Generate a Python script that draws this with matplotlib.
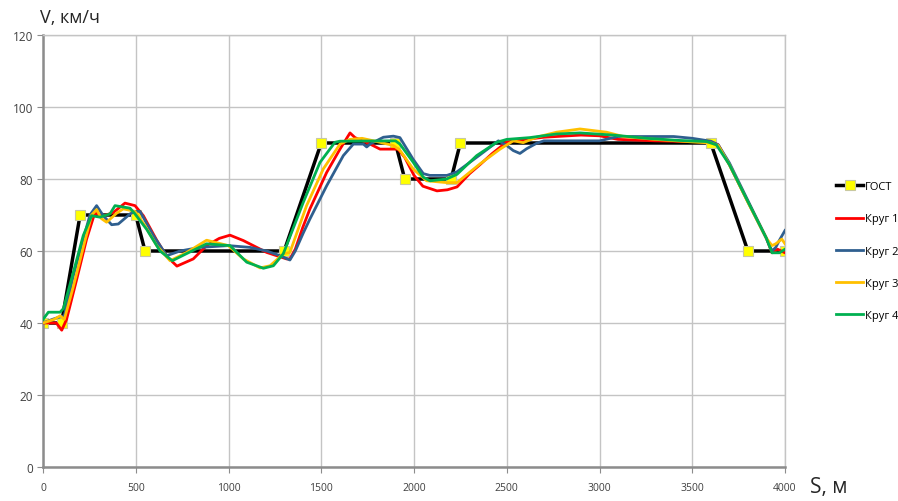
import matplotlib
matplotlib.use("Agg")
import matplotlib.pyplot as plt

plt.rcParams['font.family'] = ['Open Sans', 'DejaVu Sans']

# ГОСТ profile
gost_s = [0, 100, 200, 500, 550, 1300, 1500, 1900, 1950, 2200, 2250, 3600, 3800, 4000]
gost_v = [40, 40, 70, 70, 60, 60, 90, 90, 80, 80, 90, 90, 60, 60]

# Круг 1
s1 = [0, 50, 72, 101, 127, 182, 235, 280, 307, 340, 379, 442, 496, 541, 613, 667, 722,
      810, 882, 950, 1008, 1080, 1206, 1313, 1331, 1360, 1400, 1439, 1529, 1601, 1655,
      1682, 1763, 1817, 1871, 1914, 1950, 2000, 2048, 2124, 2180, 2232, 2300, 2356, 2420,
      2500, 2600, 2700, 2900, 3000, 3100, 3300, 3600, 3640, 3700, 3800, 3900, 3930, 3960, 4000]
v1 = [40, 40, 40, 38, 41, 52.2, 63.3, 70.7, 69.6, 70, 70.7, 73.3, 72.6, 69.8, 63, 58.5, 55.8,
      57.8, 61.5, 63.5, 64.4, 62.9, 59.6, 57.8, 57.8, 60.5, 66.5, 71.7, 81.8, 88.3, 92.8,
      91.5, 89.7, 88.3, 88.3, 88.3, 86, 81, 78, 76.7, 77, 77.8, 81.5, 84, 87,
      90.3, 91, 91.6, 92.2, 92, 91, 90.6, 90.3, 89.5, 84, 73.7, 63.5, 59.5, 60.5, 59.5]

# Круг 2
s2 = [0, 50, 92, 115, 163, 217, 253, 289, 325, 370, 406, 440, 469, 496, 523, 595, 667,
      739, 846, 999, 1116, 1206, 1278, 1331, 1360, 1403, 1439, 1529, 1619, 1673, 1727,
      1745, 1763, 1835, 1889, 1924, 1995, 2050, 2085, 2178, 2232, 2350, 2455, 2500, 2535,
      2571, 2607, 2660, 2700, 3000, 3100, 3400, 3500, 3600, 3640, 3700, 3800, 3900, 3930,
      3950, 3970, 4000]
v2 = [40, 41, 41.7, 42, 53, 63.3, 70, 72.6, 69.8, 67.3, 67.5, 69, 70.3, 71, 71, 64.3, 58.7,
      60, 61, 61.5, 61, 60, 58.7, 57.5, 60, 65, 68.9, 78.1, 86.5, 89.7, 89.7,
      88.9, 89.7, 91.6, 91.9, 91.5, 85.5, 81.5, 81, 81, 82, 86.5, 90.6, 89.3, 87.9,
      87.1, 88.4, 89.9, 90.6, 90.6, 91.8, 91.8, 91.3, 90.5, 89.5, 84.5, 74, 63.5, 60,
      61, 63, 65.7]

# Круг 3
s3 = [0, 60, 92, 115, 163, 217, 262, 289, 315, 343, 397, 433, 496, 550, 613, 685, 775,
      882, 999, 1080, 1170, 1224, 1295, 1331, 1421, 1511, 1601, 1655, 1720, 1800, 1889,
      1924, 1995, 2068, 2176, 2232, 2356, 2464, 2535, 2589, 2660, 2768, 2895, 3038, 3128,
      3300, 3500, 3600, 3640, 3700, 3800, 3900, 3930, 3950, 3983, 4000]
v3 = [40, 41, 42, 41, 50, 61, 70, 71.5, 69, 68, 70.5, 71.7, 71, 67, 61.5, 57.3, 59.6,
      63, 61.5, 57.8, 55.3, 55.9, 59.2, 59.6, 72.6, 82.8, 89.7, 91, 91.3, 90.4, 89.3,
      88, 82.8, 79.5, 79, 79, 84.2, 88.3, 90.6, 90.1, 91.6, 93, 93.9, 93, 91.8,
      91, 90.3, 90, 89.3, 84, 73.5, 63.5, 61.5, 62, 63.3, 62]

# Круг 4
s4 = [0, 29, 92, 110, 163, 217, 262, 307, 361, 388, 469, 496, 559, 631, 697, 775, 882,
      1008, 1098, 1188, 1242, 1295, 1305, 1403, 1493, 1574, 1600, 1900, 1924, 1995, 2050,
      2086, 2176, 2232, 2338, 2446, 2500, 2624, 2768, 2895, 3074, 3254, 3434, 3577, 3630,
      3700, 3800, 3900, 3930, 3970, 4000]
v4 = [41, 43, 43, 44, 54, 64.3, 69.8, 69.4, 70.3, 72.6, 71.9, 70.3, 66, 60, 57.3, 59.3, 62,
      61.5, 56.9, 55.2, 55.9, 59.2, 60.5, 73.5, 84.6, 90.2, 90.5, 90.6, 89.7, 84.7, 80.5,
      79.5, 80, 81.3, 86.5, 90.2, 91, 91.5, 92.5, 92.8, 92.2, 91.3, 90.7, 90.4, 89.5,
      84, 73.7, 63.5, 59.5, 59.5, 60.5]

x_ticks = list(range(0, 4001, 500))
y_ticks = list(range(0, 121, 20))

fig = plt.figure(figsize=(8.98, 5.02), dpi=100)
ax = fig.add_axes([43 / 898, 34 / 502, 742 / 898, 432 / 502])

ax.plot(gost_s, gost_v, color='black', lw=2.5, marker='s', markersize=6.5,
        markerfacecolor='#ffff00', markeredgecolor='#c8c8a0', markeredgewidth=0.8,
        label='ГОСТ', zorder=2)
ax.plot(s1, v1, color='#ff0000', lw=2, label='Круг 1', zorder=3)
ax.plot(s2, v2, color='#2f5f8f', lw=2, label='Круг 2', zorder=3)
ax.plot(s3, v3, color='#ffc000', lw=2, label='Круг 3', zorder=3)
ax.plot(s4, v4, color='#00b050', lw=2, label='Круг 4', zorder=3)

ax.set_xlim(0, 4000)
ax.set_ylim(0, 120)
ax.set_xticks(x_ticks)
ax.set_yticks(y_ticks)
ax.grid(True, color='#c4c4c4', lw=1)
ax.set_axisbelow(True)
for side in ['top', 'right']:
    ax.spines[side].set_color('#c4c4c4')
    ax.spines[side].set_linewidth(1)
for side in ['left', 'bottom']:
    ax.spines[side].set_color('#8c8c8c')
    ax.spines[side].set_linewidth(1.8)
ax.tick_params(axis='y', labelsize=8.5, labelcolor='#404040', color='#8c8c8c',
               length=4, pad=3)
ax.tick_params(axis='x', labelsize=7.5, labelcolor='#404040', color='#8c8c8c',
               length=4, pad=7)

fig.text(40 / 898, 1 - 18 / 502, 'V, км/ч', fontsize=13, color='#262626',
         ha='left', va='center')
fig.text(810 / 898, 1 - 488 / 502, 'S, м', fontsize=15, color='#262626',
         ha='left', va='center')

fig.legend(loc='center left', bbox_to_anchor=(832 / 898, 1 - 252 / 502),
           frameon=False, fontsize=8, labelspacing=1.9, handlelength=2.4,
           handletextpad=0.2, borderaxespad=0)

fig.savefig('out.png', dpi=100)
